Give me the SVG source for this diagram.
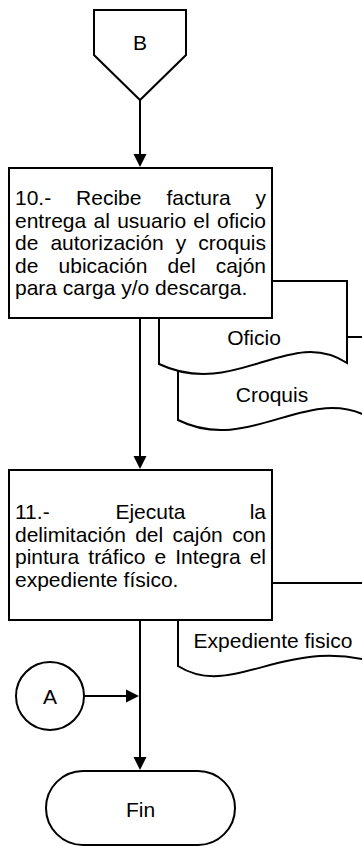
<svg xmlns="http://www.w3.org/2000/svg" width="362" height="846" viewBox="0 0 362 846">
<style>
.s{fill:#fff;stroke:#000;stroke-width:2;stroke-linejoin:miter}
.t{font-family:"Liberation Sans",Arial,sans-serif;font-size:21px;fill:#000}
.c{text-anchor:middle}
.ln{fill:none;stroke:#000;stroke-width:2}
.ah{fill:#000;stroke:none}
</style>
<rect width="362" height="846" fill="#fff"/>
<g id="connB">
<polygon class="s" points="94,10 186,10 186,55 140,100 94,55"/>
<text class="t c" x="140" y="50">B</text>
</g>
<g id="docCroquis">
<path class="s" d="M178,337 H372 V419 C310,381 250,456 178,420 Z"/>
<text class="t c" x="272" y="402">Croquis</text>
</g>
<g id="docOficio">
<path class="s" d="M159,364 V281 H347 V363 C290,325 235,400 159,364 Z"/>
<text class="t c" x="254" y="345">Oficio</text>
</g>
<g id="step10">
<rect class="s" x="9" y="168" width="263" height="150"/>
<text class="t">
<tspan x="15" y="205">10.-</tspan><tspan x="76.1" y="205">Recibe</tspan><tspan x="166.4" y="205">factura</tspan><tspan x="255.5" y="205">y</tspan>
<tspan x="15" y="227.5">entrega</tspan><tspan x="93.5" y="227.5">al</tspan><tspan x="117.2" y="227.5">usuario</tspan><tspan x="193.3" y="227.5">el</tspan><tspan x="217" y="227.5">oficio</tspan>
<tspan x="15" y="250">de</tspan><tspan x="50.4" y="250">autorización</tspan><tspan x="175.7" y="250">y</tspan><tspan x="198.3" y="250">croquis</tspan>
<tspan x="15" y="272.5">de</tspan><tspan x="58.6" y="272.5">ubicación</tspan><tspan x="167.6" y="272.5">del</tspan><tspan x="215.8" y="272.5">cajón</tspan>
<tspan x="15" y="295">para carga y/o descarga.</tspan>
</text>
</g>
<g id="docExpediente">
<path class="s" d="M178,583 H392 V668 C290,628 235,702 178,666 Z"/>
<text class="t c" x="273" y="648">Expediente fisico</text>
</g>
<g id="step11">
<rect class="s" x="9" y="470" width="263" height="150"/>
<text class="t">
<tspan x="15" y="519">11.-</tspan><tspan x="115.4" y="519">Ejecuta</tspan><tspan x="249.7" y="519">la</tspan>
<tspan x="15" y="541.5">delimitación</tspan><tspan x="135.2" y="541.5">del</tspan><tspan x="172.6" y="541.5">cajón</tspan><tspan x="232.2" y="541.5">con</tspan>
<tspan x="15" y="564">pintura</tspan><tspan x="88.3" y="564">tráfico</tspan><tspan x="154.5" y="564">e</tspan><tspan x="175.2" y="564">Integra</tspan><tspan x="249.7" y="564">el</tspan>
<tspan x="15" y="586.5">expediente físico.</tspan>
</text>
</g>
<g id="connA">
<circle class="s" cx="50" cy="696" r="34"/>
<text class="t c" x="50" y="704">A</text>
</g>
<g id="fin">
<rect class="s" x="46" y="771" width="189" height="74" rx="37" ry="37"/>
<text class="t c" x="140.5" y="817">Fin</text>
</g>
<g id="connectors">
<line class="ln" x1="140" y1="100" x2="140" y2="155"/>
<polygon class="ah" points="133.5,154 146.5,154 140,167"/>
<line class="ln" x1="140" y1="318" x2="140" y2="457"/>
<polygon class="ah" points="133.5,456 146.5,456 140,469"/>
<line class="ln" x1="140" y1="620" x2="140" y2="758"/>
<polygon class="ah" points="133.5,757 146.5,757 140,770"/>
<line class="ln" x1="84" y1="696" x2="128" y2="696"/>
<polygon class="ah" points="126,689.5 126,702.5 139,696"/>
</g>
</svg>
